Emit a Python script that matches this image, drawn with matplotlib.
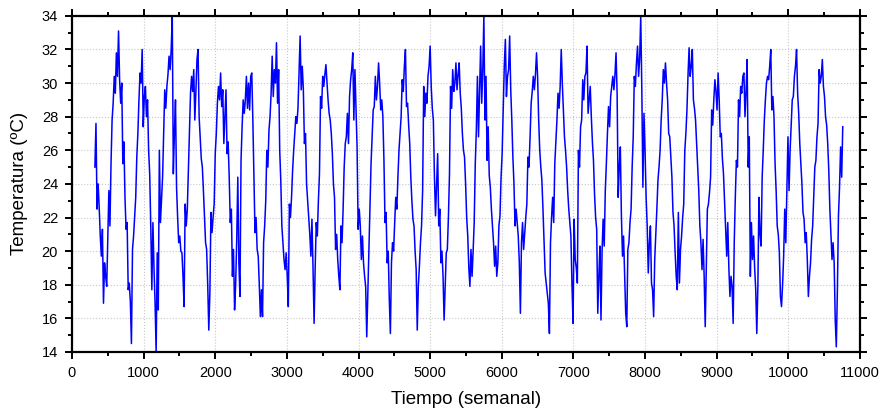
import numpy as np
import matplotlib
matplotlib.use("Agg")
import matplotlib.pyplot as plt
from matplotlib.ticker import MultipleLocator

# Serie de temperatura (un valor cada 15 unidades de tiempo)
t_inicio = 320
t_paso = 15

temperatura = [
    25.0, 27.6, 22.5, 24.0, 22.6, 20.9, 19.7, 21.3, 16.9, 19.3,
    18.5, 17.9, 20.9, 23.6, 21.5, 25.2, 27.8, 28.8, 30.4, 29.4,
    31.8, 30.4, 33.1, 30.2, 28.8, 30.0, 25.2, 26.5, 23.2, 21.3,
    21.7, 17.7, 18.1, 17.0, 14.5, 20.1, 20.9, 22.0, 23.2, 25.6,
    27.0, 29.0, 30.6, 30.0, 32.0, 27.4, 29.2, 29.8, 28.0, 29.0,
    26.0, 24.6, 21.5, 17.7, 21.7, 19.0, 16.9, 14.0, 19.9, 16.5,
    26.0, 21.7, 23.0, 24.4, 27.0, 29.6, 28.5, 29.8, 30.5, 31.6,
    30.8, 32.0, 34.0, 24.6, 27.0, 29.0, 23.8, 22.0, 20.5, 20.9,
    20.0, 19.9, 18.5, 16.7, 22.8, 21.5, 22.5, 24.8, 27.0, 29.4,
    30.4, 29.5, 30.8, 27.8, 29.5, 31.4, 32.0, 28.0, 26.8, 25.5,
    25.0, 23.6, 22.0, 20.5, 20.1, 18.0, 15.3, 17.5, 22.3, 21.1,
    22.0, 22.8, 25.8, 27.0, 28.8, 29.8, 29.0, 30.6, 28.6, 29.6,
    26.4, 28.0, 29.6, 25.8, 26.5, 24.4, 21.7, 22.5, 18.5, 20.1,
    16.5, 18.0, 20.7, 24.4, 19.3, 17.3, 25.4, 27.4, 29.0, 28.2,
    29.0, 30.4, 28.5, 30.0, 28.4, 30.4, 30.6, 27.8, 24.6, 21.1,
    22.0, 20.1, 19.7, 18.0, 16.1, 17.7, 16.1, 20.5, 21.5, 23.0,
    26.0, 25.0, 27.2, 28.0, 29.4, 31.6, 29.2, 30.8, 30.0, 32.4,
    28.8, 30.8, 26.0, 24.2, 21.5, 20.5, 19.5, 18.9, 19.9, 18.5,
    16.7, 22.8, 22.0, 23.2, 24.8, 26.0, 27.0, 28.0, 27.6, 28.5,
    30.6, 32.8, 29.6, 31.0, 29.6, 26.4, 27.0, 24.0, 23.0, 22.1,
    21.0, 19.7, 21.9, 19.0, 15.7, 19.0, 21.7, 20.9, 23.0, 24.6,
    29.2, 28.5, 30.4, 29.8, 30.5, 31.1, 30.0, 29.0, 28.2, 27.8,
    27.0, 25.8, 24.0, 23.2, 20.1, 21.0, 19.5, 18.5, 17.7, 21.5,
    20.5, 22.5, 25.0, 26.4, 26.8, 28.2, 26.4, 29.2, 30.2, 30.8,
    31.8, 27.8, 30.8, 28.4, 26.2, 21.3, 22.5, 21.5, 19.5, 20.9,
    19.3, 18.5, 17.9, 14.9, 17.5, 20.3, 22.8, 25.2, 26.8, 28.4,
    28.6, 30.4, 29.0, 29.8, 31.2, 30.0, 28.4, 29.0, 28.0, 25.4,
    21.7, 22.3, 19.3, 20.0, 17.1, 15.1, 19.3, 20.5, 20.0, 21.7,
    23.2, 22.5, 24.4, 26.0, 27.0, 28.0, 30.2, 29.5, 31.0, 32.0,
    28.6, 28.8, 27.5, 26.4, 24.4, 23.0, 21.9, 21.5, 20.0, 18.9,
    15.3, 17.9, 19.1, 20.5, 21.5, 23.6, 29.8, 28.0, 29.4, 28.8,
    30.4, 31.0, 32.2, 29.8, 28.5, 27.8, 24.4, 22.1, 24.0, 25.8,
    21.5, 22.5, 19.3, 20.0, 18.5, 15.9, 18.0, 19.9, 20.1, 22.0,
    24.6, 29.8, 28.5, 30.8, 29.5, 30.0, 31.2, 29.6, 30.5, 31.2,
    29.4, 28.5, 27.0, 26.0, 25.6, 24.0, 22.0, 20.9, 19.0, 17.9,
    20.1, 18.5, 20.0, 21.7, 25.2, 27.2, 30.4, 26.8, 29.4, 32.2,
    28.8, 30.8, 34.0, 27.8, 30.4, 25.4, 27.4, 24.5, 23.8, 22.5,
    21.5, 20.5, 19.1, 20.3, 18.5, 19.3, 21.5, 22.1, 24.4, 25.8,
    28.4, 31.0, 32.6, 29.2, 30.4, 30.8, 32.8, 29.6, 27.8, 25.6,
    24.0, 21.5, 22.5, 21.7, 20.9, 19.3, 16.3, 20.5, 21.7, 20.1,
    21.1, 22.0, 22.8, 25.6, 25.0, 26.8, 28.8, 29.5, 30.4, 29.6,
    30.5, 31.8, 30.4, 27.8, 26.0, 25.0, 24.2, 22.5, 20.5, 18.7,
    18.1, 17.5, 16.9, 15.1, 20.5, 22.0, 23.2, 21.7, 25.2, 26.5,
    27.8, 29.4, 28.5, 29.8, 32.0, 30.0, 28.4, 26.8, 26.0, 25.0,
    23.6, 22.5, 21.7, 20.9, 18.0, 15.7, 21.9, 19.5, 19.0, 18.1,
    26.0, 25.0, 27.4, 27.8, 30.2, 29.0, 30.4, 30.6, 32.2, 28.2,
    29.0, 29.8, 28.0, 26.5, 25.4, 23.4, 22.0, 21.3, 16.3, 18.5,
    20.3, 15.9, 20.0, 21.9, 20.3, 23.6, 25.2, 27.0, 28.6, 27.4,
    29.2, 29.8, 30.4, 29.6, 30.5, 31.8, 29.4, 23.2, 25.0, 26.2,
    22.1, 19.7, 20.9, 18.5, 16.3, 15.5, 20.1, 20.5, 21.7, 22.5,
    25.0, 26.8, 30.4, 29.8, 31.2, 32.2, 30.4, 31.5, 34.0, 29.6,
    23.8, 28.2, 26.0, 23.2, 21.5, 18.7, 20.5, 21.5, 18.1, 17.7,
    16.1, 19.5, 21.0, 22.5, 24.2, 25.0, 26.0, 27.8, 29.0, 30.8,
    30.0, 31.2, 30.0, 29.0, 27.0, 26.8, 25.6, 24.4, 22.3, 21.5,
    19.9, 18.5, 17.7, 22.3, 18.1, 20.1, 20.9, 22.0, 22.8, 26.0,
    27.0, 28.4, 30.5, 32.1, 30.4, 31.0, 32.0, 29.0, 28.5, 27.8,
    26.4, 25.0, 23.6, 21.5, 20.5, 18.9, 20.7, 18.5, 15.5, 19.0,
    22.5, 22.8, 23.5, 24.4, 28.4, 27.5, 29.0, 30.2, 29.5, 28.4,
    30.6, 29.0, 26.8, 27.0, 25.5, 24.6, 23.0, 21.5, 19.7, 21.7,
    19.0, 17.3, 18.5, 17.9, 15.7, 20.5, 23.2, 25.4, 25.0, 29.0,
    28.0, 29.8, 29.4, 30.4, 30.6, 28.0, 29.5, 31.4, 25.0, 26.8,
    18.5, 21.7, 19.5, 20.9, 19.0, 17.7, 15.1, 17.9, 23.2, 21.0,
    20.3, 24.4, 26.0, 27.8, 29.0, 30.0, 30.4, 30.2, 31.0, 32.0,
    28.4, 29.2, 28.0, 25.2, 23.6, 21.5, 21.0, 19.9, 17.3, 16.7,
    18.0, 19.7, 22.5, 20.5, 23.8, 26.8, 23.6, 26.0, 27.5, 29.0,
    29.2, 30.4, 31.0, 32.0, 29.4, 28.2, 26.4, 25.2, 24.0, 22.3,
    21.9, 20.5, 21.1, 19.5, 17.3, 18.5, 19.3, 20.7, 21.5, 23.2,
    25.0, 25.4, 26.8, 27.6, 30.8, 30.0, 30.4, 31.4, 29.8, 29.2,
    28.0, 27.5, 26.4, 24.8, 22.5, 21.0, 19.5, 20.5, 19.3, 15.9,
    14.3, 17.7, 22.1, 23.8, 26.2, 24.4, 27.4,
]

tiempo = t_inicio + t_paso * np.arange(len(temperatura))

plt.rcParams['font.family'] = ['Liberation Sans', 'DejaVu Sans']

fig = plt.figure(figsize=(8.82, 4.17), dpi=100)
ax = fig.add_axes([0.0816, 0.156, 0.8934, 0.806])

ax.plot(tiempo, temperatura, color='#0000FF', linewidth=1.1)

ax.set_xlim(0, 11000)
ax.set_ylim(14, 34)
ax.xaxis.set_major_locator(MultipleLocator(1000))
ax.xaxis.set_minor_locator(MultipleLocator(500))
ax.yaxis.set_major_locator(MultipleLocator(2))
ax.yaxis.set_minor_locator(MultipleLocator(1))

ax.grid(which='major', color='#c8c8c8', linestyle=':', linewidth=0.8)

for lado in ax.spines.values():
    lado.set_linewidth(1.6)

ax.tick_params(which='both', direction='out', top=True, right=True,
               width=1.4, labelsize=10.5)
ax.tick_params(which='major', length=5, pad=5)
ax.tick_params(which='minor', length=3)

ax.set_xlabel("Tiempo (semanal)", fontsize=13.5, labelpad=8)
ax.set_ylabel("Temperatura (ºC)", fontsize=13.5, labelpad=10)

fig.savefig("out.png", dpi=100)
